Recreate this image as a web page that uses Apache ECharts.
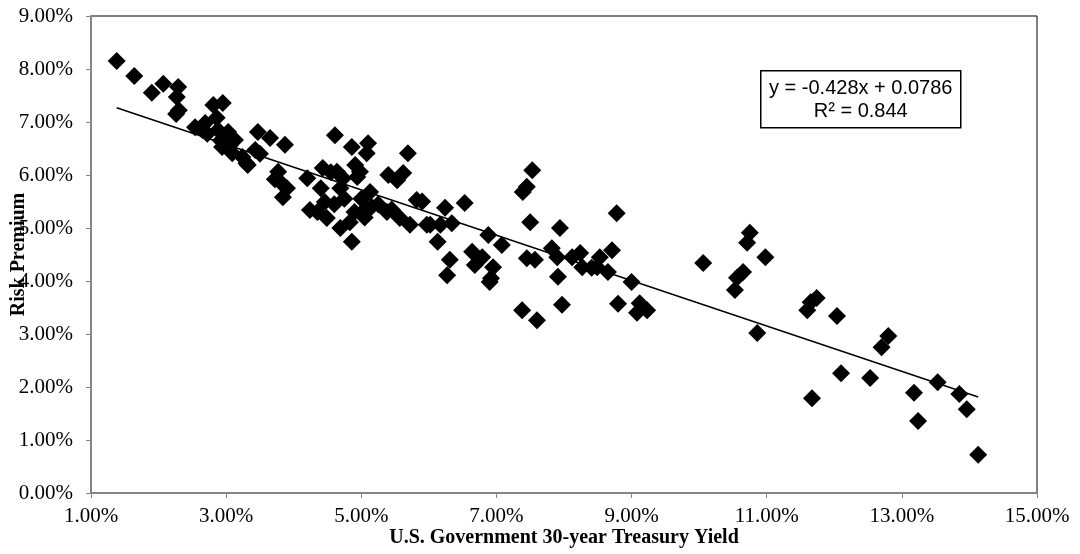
<!DOCTYPE html>
<html>
<head>
<meta charset="utf-8">
<script src="https://cdn.jsdelivr.net/npm/echarts@6/dist/echarts.min.js"></script>
<style>
  html, body { margin: 0; padding: 0; background: #fff; }
  #main { width: 1080px; height: 554px; }
</style>
</head>
<body>
<div id="main"></div>
<script>
// treasury yield (%) vs risk premium (%)
var yields = [
  1.38, 1.64, 1.90, 2.07, 2.29, 2.27, 2.26, 2.30, 2.54, 2.65,
  2.81, 2.95, 2.86, 2.69, 2.72, 2.88, 3.03, 2.92, 3.13, 2.94,
  3.09, 3.05, 3.24, 3.30, 3.43, 3.47, 3.32, 3.50, 3.65, 3.87,
  3.77, 3.72, 3.80, 3.84, 3.90, 4.20, 4.24, 4.35, 4.46, 4.40,
  4.43, 4.55, 4.49, 4.61, 4.64, 4.69, 4.60, 4.69, 4.73, 4.75,
  4.83, 4.86, 4.86, 4.91, 4.94, 4.98, 4.90, 5.00, 5.05, 5.08,
  5.13, 5.08, 5.10, 5.15, 5.25, 5.38, 5.40, 5.45, 5.53, 5.57,
  5.62, 5.69, 5.72, 5.82, 5.90, 5.97, 6.02, 6.17, 6.13, 6.24,
  6.34, 6.31, 6.27, 6.53, 6.64, 6.79, 6.68, 6.88, 6.95, 6.90,
  6.92, 7.08, 7.38, 7.39, 7.45, 7.53, 7.50, 7.45, 7.57, 7.60,
  7.82, 7.90, 7.91, 7.94, 7.97, 8.12, 8.24, 8.27, 8.41, 8.49,
  8.53, 8.65, 8.71, 8.78, 8.80, 9.00, 9.08, 9.12, 9.23, 10.06,
  10.53, 10.56, 10.65, 10.71, 10.75, 10.86, 10.98, 11.60, 11.67, 11.65,
  11.74, 12.04, 12.10, 12.53, 12.70, 12.80, 13.18, 13.24, 13.53, 13.85,
  13.96, 14.13
];
var premiums = [
  8.15, 7.87, 7.55, 7.72, 7.66, 7.47, 7.15, 7.22, 6.90, 6.85,
  7.32, 7.36, 7.08, 6.98, 6.78, 6.85, 6.81, 6.65, 6.66, 6.53,
  6.41, 6.55, 6.34, 6.22, 6.47, 6.81, 6.19, 6.40, 6.70, 6.57,
  6.06, 5.92, 5.87, 5.58, 5.75, 5.94, 5.34, 5.30, 5.49, 5.75,
  6.13, 6.05, 5.19, 6.75, 6.06, 5.75, 5.45, 5.00, 5.94, 5.55,
  5.11, 4.74, 6.53, 6.19, 5.96, 6.06, 5.30, 5.55, 5.20, 5.38,
  5.68, 6.41, 6.60, 5.40, 5.45, 5.30, 6.00, 5.35, 5.90, 5.19,
  6.04, 6.41, 5.06, 5.53, 5.50, 5.06, 5.06, 5.06, 4.74, 5.38,
  5.09, 4.40, 4.11, 5.47, 4.55, 4.45, 4.30, 4.87, 4.26, 3.98,
  4.05, 4.68, 3.45, 5.68, 5.78, 6.09, 5.11, 4.43, 4.40, 3.26,
  4.62, 4.45, 4.08, 5.00, 3.55, 4.45, 4.53, 4.26, 4.25, 4.26,
  4.45, 4.17, 4.58, 5.28, 3.57, 3.98, 3.40, 3.58, 3.45, 4.34,
  3.83, 4.06, 4.17, 4.72, 4.91, 3.02, 4.45, 3.45, 1.79, 3.60,
  3.68, 3.34, 2.26, 2.17, 2.75, 2.96, 1.89, 1.36, 2.09, 1.87,
  1.58, 0.72
];
// linear trend endpoints
var trendX = [1.38, 14.13];
var trendY = [7.27, 1.81];
var xTicks = [1, 15, 2];
var yTicks = [0, 9, 1];
var equationLines = ['y = -0.428x + 0.0786', 'R\u00b2 = 0.844'];

var points = yields.map(function (x, i) { return [x, premiums[i]]; });
var trend = trendX.map(function (x, i) { return [x, trendY[i]]; });

var myChart = echarts.init(document.getElementById('main'));
var serif = '"Liberation Serif", "Times New Roman", serif';
var pct = function (v) { return v.toFixed(2) + '%'; };

myChart.setOption({
  animation: false,
  backgroundColor: '#fff',
  grid: {
    left: 91, top: 16, right: 43, bottom: 61,
    containLabel: false,
    outerBoundsMode: 'none',
    show: true, borderColor: '#000', borderWidth: 1
  },
  xAxis: {
    type: 'value',
    min: xTicks[0], max: xTicks[1], interval: xTicks[2],
    name: 'U.S. Government 30-year Treasury Yield',
    nameLocation: 'middle',
    nameGap: 35,
    nameMoveOverlap: false,
    nameTextStyle: { fontFamily: serif, fontWeight: 'bold', fontSize: 20, color: '#000' },
    axisLine: { lineStyle: { color: '#858585', width: 2 } },
    axisTick: { show: true, length: 5, lineStyle: { color: '#858585' } },
    axisLabel: { margin: 13, fontFamily: serif, fontSize: 21, color: '#000', formatter: pct },
    splitLine: { show: false }
  },
  yAxis: {
    type: 'value',
    min: yTicks[0], max: yTicks[1], interval: yTicks[2],
    name: 'Risk Premium',
    nameLocation: 'middle',
    nameGap: 62,
    nameMoveOverlap: false,
    nameTextStyle: { fontFamily: serif, fontWeight: 'bold', fontSize: 20, color: '#000' },
    axisLine: { show: true, lineStyle: { color: '#858585', width: 2 } },
    axisTick: { show: true, length: 5, lineStyle: { color: '#858585' } },
    axisLabel: { margin: 18, fontFamily: serif, fontSize: 21, color: '#000', formatter: pct },
    splitLine: { show: false }
  },
  series: [
    {
      type: 'scatter',
      data: points,
      symbol: 'diamond',
      symbolSize: 18,
      itemStyle: { color: '#000', opacity: 1 },
      z: 2
    },
    {
      type: 'line',
      data: trend,
      symbol: 'none',
      lineStyle: { color: '#000', width: 1.5 },
      z: 3
    }
  ],
  graphic: [
    {
      type: 'group',
      left: 760, top: 70,
      children: [
        {
          type: 'rect',
          shape: { x: 0, y: 0, width: 200, height: 57 },
          style: { fill: '#fff', stroke: '#000', lineWidth: 1.5 }
        },
        {
          type: 'text',
          x: 100, y: 18,
          style: {
            text: equationLines[0], align: 'center', verticalAlign: 'middle',
            font: '20px "Liberation Sans", Arial, sans-serif', fill: '#000'
          }
        },
        {
          type: 'text',
          x: 100, y: 41,
          style: {
            text: equationLines[1], align: 'center', verticalAlign: 'middle',
            font: '20px "Liberation Sans", Arial, sans-serif', fill: '#000'
          }
        }
      ]
    }
  ]
});
</script>
</body>
</html>
